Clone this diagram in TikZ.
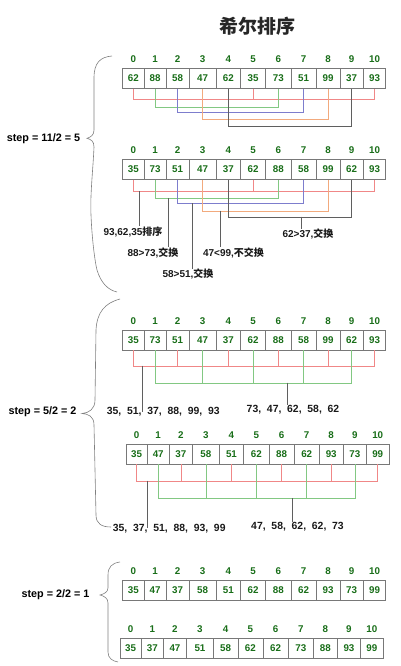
\documentclass[tikz,border=0pt]{standalone}
\usepackage{fontspec}
\setmainfont{Liberation Sans}
\newfontfamily\cjk{Noto Sans CJK SC}
\definecolor{numgreen}{RGB}{25,110,25}
\definecolor{cellgray}{RGB}{120,120,120}
\definecolor{lred}{RGB}{240,135,135}
\definecolor{lgreen}{RGB}{130,200,130}
\definecolor{lblue}{RGB}{125,125,205}
\definecolor{lorange}{RGB}{242,170,125}
\definecolor{ldark}{RGB}{95,95,95}
\tikzset{
  cell/.style={draw=cellgray, line width=0.5pt, inner sep=0pt, minimum height=20pt,
    text=numgreen, font=\bfseries\fontsize{9.8}{10}\selectfont},
  idx/.style={inner sep=0pt, text=numgreen, font=\bfseries\fontsize{9.8}{10}\selectfont},
  note/.style={inner sep=0pt, text=black!90, font=\bfseries\fontsize{10}{12}\selectfont},
  list/.style={inner sep=0pt, text=black!90, font=\bfseries\fontsize{10.4}{12}\selectfont},
  steplab/.style={inner sep=0pt, font=\bfseries\fontsize{10.8}{12}\selectfont},
  ln/.style={line width=0.5pt},
  notel/.style={line width=0.5pt, draw=ldark},
  bracel/.style={line width=0.6pt, draw=gray},
}
\def\bl{{122.7,144,166,189.3,216,240.5,265.7,291,316,340,363.3,385.7}}
\newcommand\cellrow[4]{%
  \foreach \v [count=\i from 0] in {#4} {
    \pgfmathsetmacro\xl{\bl[\i]+#2}
    \pgfmathsetmacro\xr{\bl[\i+1]+#2}
    \pgfmathsetmacro\w{\xr-\xl}
    \node[cell, minimum width=\w pt] (#1c\i) at ({(\xl+\xr)/2},#3+10) {\v};
    \node[idx] (#1i\i) at ({(\xl+\xr)/2},#3-9) {\i};
  }}

\begin{document}
\begin{tikzpicture}[x=1pt,y=-1pt]
  \useasboundingbox (0,0) rectangle (400,666);
  \node[font=\cjk\bfseries\fontsize{19}{20}\selectfont, text=black!85] (title) at (257.5,26) {希尔排序};

  \node[steplab] (st1) at (43.5,138.3) {step = 11/2 = 5};
  \draw[bracel] (112,56) .. controls (100,57) and (94,63) .. (94,78) -- (94,130)
    .. controls (94,135) and (91,137) .. (87,138.3) .. controls (91,139.5) and (94,141) .. (94,147)
    .. controls (93,170) and (90,195) .. (91,215) .. controls (92,240) and (95,262) .. (97,270)
    .. controls (101,283) and (108,290) .. (117,292);

  \cellrow{r1}{0}{68.3}{62,88,58,47,62,35,73,51,99,37,93}
  \draw[ln,lred] (r1c0.south) -- ++(0,11) -| (r1c5.south);
  \draw[ln,lred] (r1c5.south) -- ++(0,11) -| (r1c10.south);
  \draw[ln,lgreen] (r1c1.south) -- ++(0,18.4) -| (r1c6.south);
  \draw[ln,lblue] (r1c2.south) -- ++(0,23.4) -| (r1c7.south);
  \draw[ln,lorange] (r1c3.south) -- ++(0,30.7) -| (r1c8.south);
  \draw[ln,ldark] (r1c4.south) -- ++(0,37.4) -| (r1c9.south);

  \cellrow{r2}{0}{159.3}{35,73,51,47,37,62,88,58,99,62,93}
  \draw[ln,lred] (r2c0.south) -- ++(0,11.7) -| (r2c5.south);
  \draw[ln,lred] (r2c5.south) -- ++(0,11.7) -| (r2c10.south);
  \draw[ln,lgreen] (r2c1.south) -- ++(0,19) -| (r2c6.south);
  \draw[ln,lblue] (r2c2.south) -- ++(0,24) -| (r2c7.south);
  \draw[ln,lorange] (r2c3.south) -- ++(0,31.4) -| (r2c8.south);
  \draw[ln,ldark] (r2c4.south) -- ++(0,37.4) -| (r2c9.south);

  \coordinate (s1) at (139.3,191);
  \coordinate (s2) at (168.3,198.3);
  \coordinate (s3) at (192.7,203.3);
  \coordinate (s4) at (220,210.7);
  \coordinate (s5) at (301.7,216.7);
  \node[note] (n1) at (133,231.7) {93,62,35{\cjk 排序}};
  \node[note] (n2) at (153,252.7) {88>73,{\cjk 交换}};
  \node[note] (n3) at (188,274) {58>51,{\cjk 交换}};
  \node[note] (n4) at (233.5,252.7) {47<99,{\cjk 不交换}};
  \node[note] (n5) at (308,234.3) {62>37,{\cjk 交换}};
  \draw[notel] (s1) -- (s1 |- n1.north);
  \draw[notel] (s2) -- (s2 |- n2.north);
  \draw[notel] (s3) -- (s3 |- n3.north);
  \draw[notel] (s4) -- (s4 |- n4.north);
  \draw[notel] (s5) -- (s5 |- n5.north);

  \node[steplab] (st2) at (42.5,411.7) {step = 5/2 = 2};
  \draw[bracel] (120,299) .. controls (105,303) and (97,312) .. (96,330) -- (95,400)
    .. controls (95,409) and (89,413) .. (82,413.5) .. controls (88,414) and (94,416) .. (94,425)
    -- (96,515) .. controls (96,524) and (102,527) .. (111,527);

  \cellrow{r3}{0}{330}{35,73,51,47,37,62,88,58,99,62,93}
  \draw[ln,lred] (r3c0.south) -- ++(0,15.7) -| (r3c10.south);
  \foreach \k in {2,4,6,8} \draw[ln,lred] (r3c\k.south) -- ++(0,15.7);
  \draw[ln,lgreen] (r3c1.south) -- ++(0,32.7) -| (r3c9.south);
  \foreach \k in {3,5,7} \draw[ln,lgreen] (r3c\k.south) -- ++(0,32.7);
  \coordinate (s6) at (142.7,365.7);
  \coordinate (s7) at (287.3,382.7);
  \node[list] (n6) at (163.3,411.7) {35,~~51,~~37,~~88,~~99,~~93};
  \node[list] (n7) at (293,410) {73,~~47,~~62,~~58,~~62};
  \draw[notel] (s6) -- (s6 |- n6.center);
  \draw[notel] (s7) -- (s7 |- n7.north);

  \cellrow{r4}{3.2}{444}{35,47,37,58,51,62,88,62,93,73,99}
  \draw[ln,lred] (r4c0.south) -- ++(0,16.7) -| (r4c10.south);
  \foreach \k in {2,4,6,8} \draw[ln,lred] (r4c\k.south) -- ++(0,16.7);
  \draw[ln,lgreen] (r4c1.south) -- ++(0,34.3) -| (r4c9.south);
  \foreach \k in {3,5,7} \draw[ln,lgreen] (r4c\k.south) -- ++(0,34.3);
  \coordinate (s8) at (147.3,480.7);
  \coordinate (s9) at (292.7,498.3);
  \node[list] (n8) at (169.2,528.3) {35,~~37,~~51,~~88,~~93,~~99};
  \node[list] (n9) at (297.5,526.7) {47,~~58,~~62,~~62,~~73};
  \draw[notel] (s8) -- (s8 |- n8.center);
  \draw[notel] (s9) -- (s9 |- n9.north);

  \node[steplab] (st3) at (55.5,595) {step = 2/2 = 1};
  \draw[bracel] (120,562) .. controls (112,563) and (108,567) .. (108,575) -- (108,588)
    .. controls (108,592) and (104,594) .. (100,595) .. controls (104,596) and (108,598) .. (108,603)
    -- (108,652) .. controls (108,658) and (112,661) .. (118,662);

  \cellrow{r5}{0}{580}{35,47,37,58,51,62,88,62,93,73,99}
  \cellrow{r6}{-2.7}{638.3}{35,37,47,51,58,62,62,73,88,93,99}
\end{tikzpicture}
\end{document}
